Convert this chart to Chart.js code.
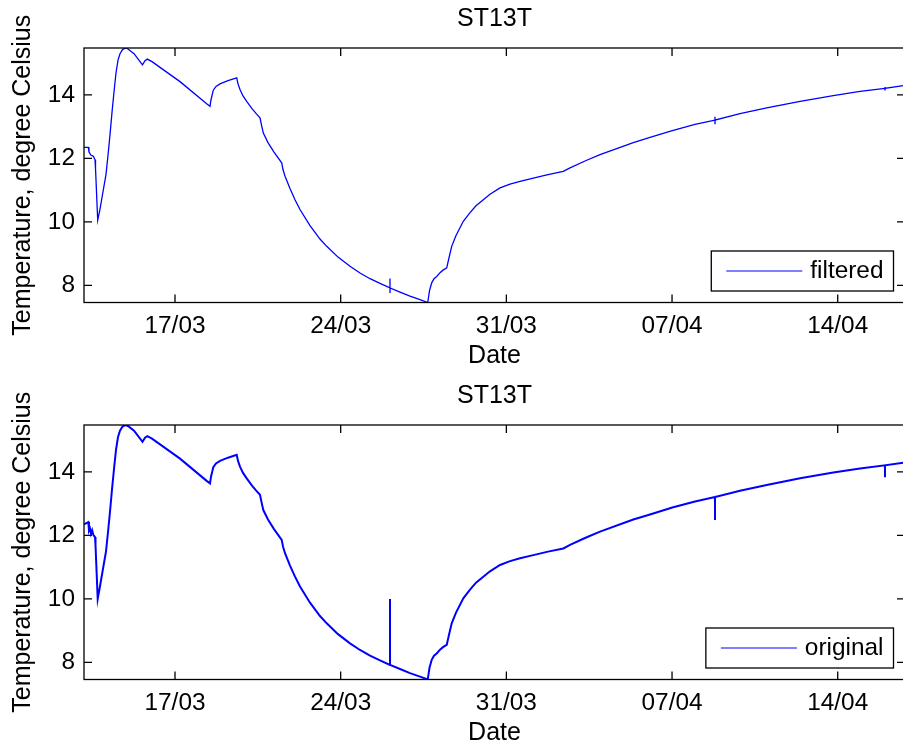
<!DOCTYPE html>
<html>
<head>
<meta charset="utf-8">
<script src="https://cdn.jsdelivr.net/npm/chart.js@4/dist/chart.umd.min.js"></script>
<style>
  html, body { margin: 0; padding: 0; background: #fff; overflow: hidden; width: 903px; height: 747px; }
  .panel { position: absolute; left: 0; width: 910px; height: 377px; }
</style>
</head>
<body>
<div class="panel" style="top:0"><canvas id="filteredChart" width="910" height="377"></canvas></div>
<div class="panel" style="top:377px"><canvas id="originalChart" width="910" height="377"></canvas></div>
<script>
// Sample times, as day numbers counted from 1 March (32 = 1 April)
const days = [
  13.155, 13.337, 13.366, 13.409, 13.451, 13.500, 13.548, 13.620, 13.641, 13.734,
  13.831, 13.958, 14.085, 14.169, 14.254, 14.338, 14.423, 14.508, 14.592, 14.676,
  14.782, 14.909, 15.014, 15.268, 15.627, 15.733, 15.830, 16.028, 17.211, 18.339,
  18.479, 18.521, 18.618, 18.732, 18.901, 19.239, 19.607, 19.662, 19.746, 19.873,
  20.029, 20.253, 20.422, 20.591, 20.655, 20.731, 20.929, 21.183, 21.508, 21.563,
  21.648, 21.859, 22.070, 22.281, 22.704, 23.126, 23.410, 23.887, 24.394, 24.816,
  25.239, 25.661, 26.082, 26.083, 26.084, 26.085, 26.507, 26.929, 27.351, 27.677,
  27.711, 27.753, 27.846, 27.943, 28.057, 28.197, 28.323, 28.480, 28.577, 28.691,
  28.873, 29.181, 29.464, 29.718, 30.026, 30.309, 30.732, 31.154, 31.577, 32.139,
  32.760, 33.406, 33.689, 34.323, 34.957, 36.364, 37.069, 38.012, 38.971, 39.814,
  39.815, 39.816, 39.817, 40.872, 42.000, 43.410, 44.814, 45.942, 46.996, 46.997,
  46.998, 46.999, 47.843
];

// Filtered temperature record, degree Celsius
const filtered = [
  12.35, 12.35, 12.20, 12.15, 12.10, 12.09, 12.07, 11.96, 11.70, 10.05,
  10.40, 10.95, 11.50, 12.10, 12.75, 13.45, 14.10, 14.70, 15.10, 15.30,
  15.43, 15.48, 15.45, 15.30, 14.95, 15.08, 15.13, 15.05, 14.42, 13.72,
  13.64, 13.85, 14.15, 14.27, 14.35, 14.45, 14.54, 14.35, 14.17, 13.97,
  13.80, 13.57, 13.42, 13.28, 13.05, 12.80, 12.50, 12.20, 11.86, 11.65,
  11.44, 11.05, 10.70, 10.39, 9.88, 9.46, 9.23, 8.89, 8.60, 8.39,
  8.21, 8.06, 7.92, 8.22, 7.78, 7.92, 7.79, 7.66, 7.55, 7.46,
  7.62, 7.83, 8.08, 8.21, 8.28, 8.40, 8.48, 8.55, 8.87, 9.23,
  9.57, 10.02, 10.29, 10.51, 10.70, 10.87, 11.07, 11.19, 11.28, 11.38,
  11.49, 11.59, 11.70, 11.92, 12.12, 12.50, 12.66, 12.88, 13.07, 13.21,
  13.31, 13.10, 13.21, 13.41, 13.59, 13.80, 13.98, 14.11, 14.21, 14.25,
  14.16, 14.21, 14.30
];

// Raw temperature record, degree Celsius
const original = [
  12.35, 12.42, 12.15, 12.22, 12.05, 12.16, 12.02, 11.95, 11.70, 10.00,
  10.40, 10.95, 11.50, 12.10, 12.75, 13.45, 14.10, 14.70, 15.10, 15.30,
  15.43, 15.48, 15.45, 15.30, 14.95, 15.08, 15.13, 15.05, 14.42, 13.72,
  13.64, 13.85, 14.15, 14.27, 14.35, 14.45, 14.54, 14.35, 14.17, 13.97,
  13.80, 13.57, 13.42, 13.28, 13.05, 12.80, 12.50, 12.20, 11.86, 11.65,
  11.44, 11.05, 10.70, 10.39, 9.88, 9.46, 9.23, 8.89, 8.60, 8.39,
  8.21, 8.06, 7.92, 10.00, 7.92, 7.92, 7.79, 7.66, 7.55, 7.46,
  7.62, 7.83, 8.08, 8.21, 8.28, 8.40, 8.48, 8.55, 8.87, 9.23,
  9.57, 10.02, 10.29, 10.51, 10.70, 10.87, 11.07, 11.19, 11.28, 11.38,
  11.49, 11.59, 11.70, 11.92, 12.12, 12.50, 12.66, 12.88, 13.07, 13.21,
  12.49, 13.21, 13.21, 13.41, 13.59, 13.80, 13.98, 14.11, 14.21, 13.83,
  14.21, 14.21, 14.30
];

const tickDays = [17, 24, 31, 38, 45];
const tickDates = ['17/03', '24/03', '31/03', '07/04', '14/04'];
const tempTicks = [8, 10, 12, 14];

const FAMILY = '"Liberation Sans", Arial, Helvetica, sans-serif';
const TICK_FONT = { family: FAMILY, size: 24.4, weight: 'normal', lineHeight: 1.2 };
const TITLE_FONT = { family: FAMILY, size: 25, weight: 'normal', lineHeight: 1.2 };
const TICK_LEN = 8;
const BOX_WIDTH = 1.3;

// Axes box with inward tick marks on all four sides
const framePlugin = {
  id: 'frame',
  afterDatasetsDraw(chart) {
    const { ctx, chartArea: a, scales: { x, y } } = chart;
    ctx.save();
    ctx.strokeStyle = '#000';
    ctx.lineWidth = BOX_WIDTH;
    ctx.strokeRect(a.left, a.top, a.right - a.left, a.bottom - a.top);
    ctx.beginPath();
    tickDays.forEach(d => {
      const px = x.getPixelForValue(d);
      ctx.moveTo(px, a.bottom); ctx.lineTo(px, a.bottom - TICK_LEN);
      ctx.moveTo(px, a.top); ctx.lineTo(px, a.top + TICK_LEN);
    });
    tempTicks.forEach(t => {
      const py = y.getPixelForValue(t);
      ctx.moveTo(a.left, py); ctx.lineTo(a.left + TICK_LEN, py);
      ctx.moveTo(a.right, py); ctx.lineTo(a.right - TICK_LEN, py);
    });
    ctx.stroke();
    ctx.restore();
  }
};

// Boxed legend in the lower right corner of the axes
const boxLegendPlugin = {
  id: 'boxLegend',
  afterDraw(chart) {
    const { ctx, chartArea: a } = chart;
    const ds = chart.data.datasets[0];
    ctx.save();
    ctx.font = `24.4px ${FAMILY}`;
    const tw = ctx.measureText(ds.label).width;
    const w = 15 + 76 + 8 + tw + 10;
    const h = 40;
    const bx = a.right - 11.5 - w;
    const by = a.bottom - 11.5 - h;
    ctx.fillStyle = '#fff';
    ctx.fillRect(bx, by, w, h);
    ctx.strokeStyle = '#000';
    ctx.lineWidth = BOX_WIDTH;
    ctx.strokeRect(bx, by, w, h);
    ctx.strokeStyle = ds.borderColor;
    ctx.lineWidth = 1;
    ctx.beginPath();
    ctx.moveTo(bx + 15, by + h / 2);
    ctx.lineTo(bx + 91, by + h / 2);
    ctx.stroke();
    ctx.fillStyle = '#000';
    ctx.textBaseline = 'middle';
    ctx.textAlign = 'left';
    ctx.fillText(ds.label, bx + 99, by + h / 2);
    ctx.restore();
  }
};

function makeChart(canvasId, label, values, lineWidth) {
  const points = days.map((d, i) => ({ x: d, y: values[i] }));
  return new Chart(document.getElementById(canvasId), {
    type: 'line',
    data: {
      datasets: [{
        label,
        data: points,
        borderColor: '#0000ff',
        borderWidth: lineWidth,
        pointRadius: 0,
        tension: 0,
        fill: false
      }]
    },
    plugins: [framePlugin, boxLegendPlugin],
    options: {
      responsive: false,
      animation: false,
      devicePixelRatio: 1,
      layout: { padding: { top: 0, left: 0, right: 5, bottom: 0 } },
      plugins: {
        legend: { display: false },
        tooltip: { enabled: false },
        title: {
          display: true,
          text: 'ST13T',
          fullSize: false,
          color: '#000',
          font: TITLE_FONT,
          padding: { top: 4.5, bottom: 13.5 }
        }
      },
      scales: {
        x: {
          type: 'linear',
          min: days[0],
          max: days[days.length - 1],
          afterBuildTicks: s => { s.ticks = tickDays.map(v => ({ value: v })); },
          afterFit: s => { s.height = 74.5; },
          grid: { display: false, drawTicks: false },
          border: { display: false },
          ticks: {
            autoSkip: false,
            maxRotation: 0,
            padding: 9,
            color: '#000',
            font: TICK_FONT,
            callback: v => tickDates[tickDays.indexOf(v)]
          },
          title: {
            display: true,
            text: 'Date',
            color: '#000',
            font: TITLE_FONT,
            padding: { top: 0, bottom: 6 }
          }
        },
        y: {
          type: 'linear',
          min: Math.min(...original),
          max: Math.max(...original),
          afterBuildTicks: s => { s.ticks = tempTicks.map(v => ({ value: v })); },
          afterFit: s => { s.width = 84; },
          grid: { display: false, drawTicks: false },
          border: { display: false },
          ticks: {
            padding: 9,
            color: '#000',
            font: TICK_FONT,
            callback: v => String(v)
          },
          title: {
            display: true,
            text: 'Temperature, degree Celsius',
            color: '#000',
            font: TITLE_FONT,
            padding: { top: 8, bottom: 0 }
          }
        }
      }
    }
  });
}

makeChart('filteredChart', 'filtered', filtered, 1.3);
makeChart('originalChart', 'original', original, 2);
</script>
</body>
</html>
